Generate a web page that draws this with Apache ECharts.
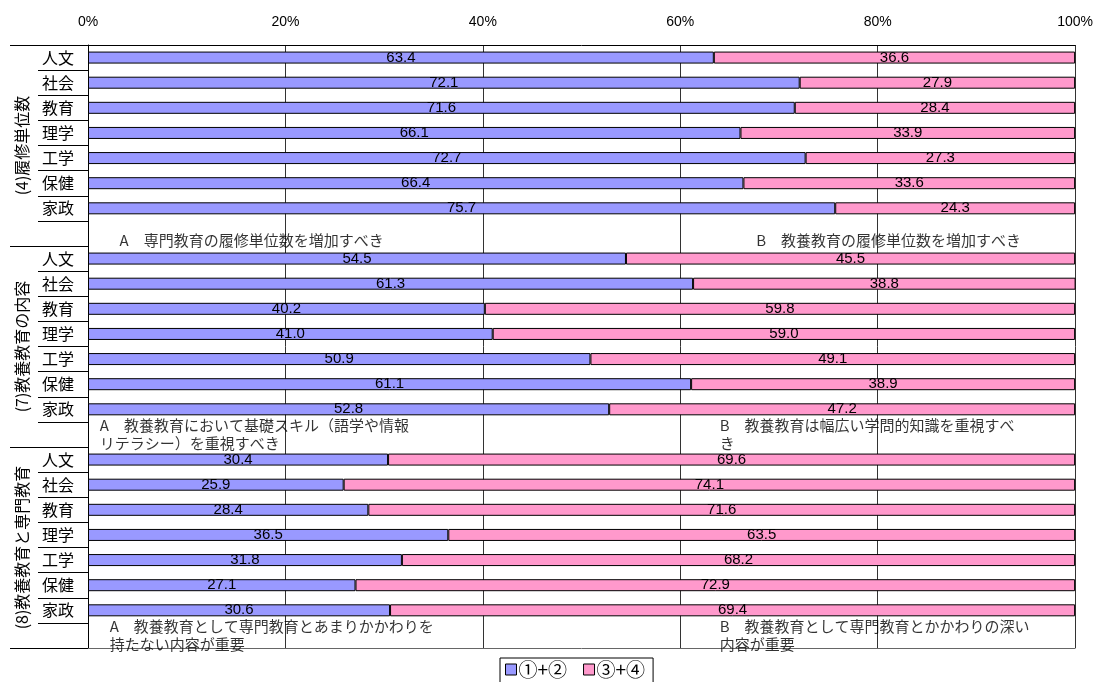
<!DOCTYPE html>
<html>
<head>
<meta charset="utf-8">
<script src="https://cdn.jsdelivr.net/npm/echarts@6/dist/echarts.min.js"></script>
<style>
  html, body { margin: 0; padding: 0; background: #fff; }
  #chart { width: 1096px; height: 682px; }
</style>
</head>
<body>
<div id="chart"></div>
<script>
// rows top to bottom; blank row at the end of each group carries the A / B notes
const rowLabels = [
  '人文', '社会', '教育', '理学', '工学', '保健', '家政', '',
  '人文', '社会', '教育', '理学', '工学', '保健', '家政', '',
  '人文', '社会', '教育', '理学', '工学', '保健', '家政', ''
]
const groupLabels = ['(4)履修単位数', '(7)教養教育の内容', '(8)教養教育と専門教育']
const seriesNames = ['①+②', '③+④']
const agreeA = [
  63.4, 72.1, 71.6, 66.1, 72.7, 66.4, 75.7, null,
  54.5, 61.3, 40.2, 41.0, 50.9, 61.1, 52.8, null,
  30.4, 25.9, 28.4, 36.5, 31.8, 27.1, 30.6, null
]
const agreeB = [
  36.6, 27.9, 28.4, 33.9, 27.3, 33.6, 24.3, null,
  45.5, 38.8, 59.8, 59.0, 49.1, 38.9, 47.2, null,
  69.6, 74.1, 71.6, 63.5, 68.2, 72.9, 69.4, null
]
const xTicks = [0, 20, 40, 60, 80, 100]
const noteTexts = [
  'A　専門教育の履修単位数を増加すべき',
  'B　教養教育の履修単位数を増加すべき',
  'A　教養教育において基礎スキル（語学や情報\nリテラシー）を重視すべき',
  'B　教養教育は幅広い学問的知識を重視すべ\nき',
  'A　教養教育として専門教育とあまりかかわりを\n持たない内容が重要',
  'B　教養教育として専門教育とかかわりの深い\n内容が重要'
]
const noteRows = [7, 7, 15, 15, 23, 23]
const noteX = [3.2, 67.7, 1.2, 64.0, 2.2, 64.0]

const font = '"Noto Sans CJK JP", "Liberation Sans", sans-serif'
const numFont = '"Liberation Sans", Arial, sans-serif'
const chart = echarts.init(document.getElementById('chart'), null, { renderer: 'canvas' })

const barSeries = (name, data, color) => ({
  name,
  type: 'bar',
  stack: 'total',
  barWidth: 12,
  data,
  itemStyle: { color, borderColor: '#000', borderWidth: 1 },
  label: {
    show: true,
    position: 'inside',
    color: '#000',
    fontSize: 15,
    fontFamily: numFont,
    formatter: (p) => (p.value == null ? '' : Number(p.value).toFixed(1)),
  },
  emphasis: { disabled: true },
})

const option = {
  animation: false,
  backgroundColor: '#fff',
  grid: { left: 88, right: 20, top: 45, bottom: 34 },
  legend: {
    data: seriesNames,
    top: 658,
    left: 500,
    padding: [2, 8, 4, 5],
    borderColor: '#000',
    borderWidth: 1,
    borderRadius: 0,
    itemWidth: 11,
    itemHeight: 11,
    itemGap: 16,
    textStyle: { fontSize: 19, fontFamily: font, color: '#000', padding: [0, 0, 0, -3] },
    icon: 'rect',
    itemStyle: { borderColor: '#000', borderWidth: 1 },
  },
  xAxis: [
    {
      type: 'value',
      position: 'top',
      min: 0,
      max: 100,
      interval: 20,
      axisLine: { show: true, lineStyle: { color: '#000', width: 1 } },
      axisTick: { show: false },
      splitLine: { show: true, lineStyle: { color: '#333', width: 1 } },
      axisLabel: {
        margin: 16,
        fontSize: 14,
        fontFamily: numFont,
        color: '#000',
        formatter: (v) => (xTicks.includes(v) ? v + '%' : ''),
      },
    },
    {
      type: 'value',
      position: 'bottom',
      min: 0,
      max: 100,
      axisLine: { show: true, onZero: false, lineStyle: { color: '#666', width: 1 } },
      axisTick: { show: false },
      axisLabel: { show: false },
      splitLine: { show: false },
    },
  ],
  yAxis: [
    {
      type: 'category',
      inverse: true,
      data: rowLabels.map((_, i) => 'r' + i),
      axisLine: { show: true, lineStyle: { color: '#000', width: 1 } },
      axisTick: { show: true, length: 50, interval: 0, lineStyle: { color: '#000' } },
      axisLabel: {
        interval: 0,
        margin: 14,
        fontSize: 16,
        fontFamily: font,
        color: '#000',
        formatter: (v, i) => rowLabels[i],
      },
    },
    {
      type: 'category',
      inverse: true,
      position: 'left',
      data: groupLabels,
      axisLine: { show: false },
      axisTick: { show: true, length: 78, interval: 0, lineStyle: { color: '#000' } },
      axisLabel: {
        interval: 0,
        rotate: 90,
        margin: 58,
        fontSize: 16,
        fontFamily: font,
        color: '#000',
      },
    },
  ],
  series: [
    barSeries(seriesNames[0], agreeA, '#9999ff'),
    barSeries(seriesNames[1], agreeB, '#ff99cc'),
    {
      type: 'scatter',
      symbolSize: 0,
      silent: true,
      data: noteTexts.map((t, i) => ({
        value: [noteX[i], noteRows[i]],
        label: i < 2 ? { offset: [0, 7] } : {},
      })),
      label: {
        show: true,
        position: 'right',
        distance: 0,
        align: 'left',
        verticalAlign: 'middle',
        fontSize: 15,
        lineHeight: 18,
        fontFamily: font,
        color: '#000',
        formatter: (p) => noteTexts[p.dataIndex],
      },
    },
  ],
}

chart.setOption(option)
</script>
</body>
</html>
